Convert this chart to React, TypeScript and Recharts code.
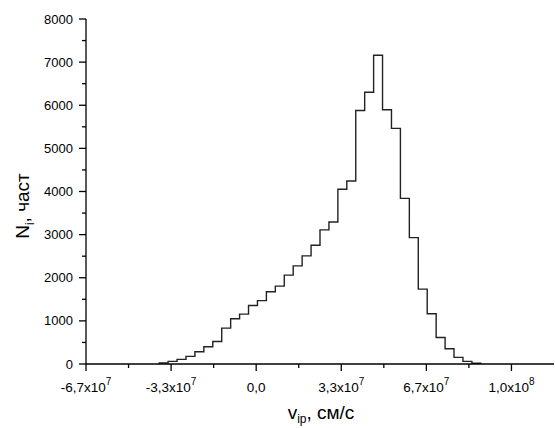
import { LineChart, Line, XAxis, YAxis } from 'recharts'

// bin left edges, cm/s
const binEdges = [
  -3.80e7, -3.45e7, -3.10e7, -2.75e7, -2.40e7, -2.05e7, -1.70e7, -1.35e7, -1.00e7,
  -0.65e7, -0.30e7, 0.05e7, 0.40e7, 0.75e7, 1.10e7, 1.45e7, 1.80e7, 2.15e7,
  2.50e7, 2.85e7, 3.20e7, 3.55e7, 3.90e7, 4.25e7, 4.60e7, 4.95e7, 5.30e7,
  5.65e7, 6.00e7, 6.35e7, 6.70e7, 7.05e7, 7.40e7, 7.75e7, 8.10e7, 8.45e7,
]
const lastEdge = 8.80e7

// particle counts per bin
const counts = [
  23, 60, 107, 176, 285, 400, 523, 833, 1049,
  1157, 1357, 1470, 1674, 1806, 2060, 2275, 2507, 2755,
  3109, 3294, 4051, 4243, 5880, 6303, 7160, 5894, 5463,
  3840, 2931, 1736, 1164, 616, 354, 153, 60, 18,
]

const xMajorTicks = [-6.667e7, -3.333e7, 0, 3.333e7, 6.667e7, 1.0e8]
const xMantissas = ['-6,7', '-3,3', '0,0', '3,3', '6,7', '1,0']
const xExponents = ['7', '7', '', '7', '7', '8']
const xMinorTicks = [-5e7, -1.667e7, 1.667e7, 5e7, 8.333e7]

const yMajorTicks = [0, 1000, 2000, 3000, 4000, 5000, 6000, 7000, 8000]
const yMinorTicks = [500, 1500, 2500, 3500, 4500, 5500, 6500, 7500]

const font = '"Liberation Sans", Arial, sans-serif'

const data = [
  { x: binEdges[0], n: 0 },
  ...binEdges.map((e, i) => ({ x: e, n: counts[i] })),
  { x: lastEdge, n: 0 },
]

const XTick = (props: any) => {
  const { x, y, payload } = props
  const i = xMajorTicks.indexOf(payload.value)
  if (i < 0) {
    return <line x1={x} y1={y} x2={x} y2={y + 4} stroke="#000" strokeWidth={1.3} />
  }
  return (
    <g>
      <line x1={x} y1={y} x2={x} y2={y + 7} stroke="#000" strokeWidth={1.3} />
      <text x={x} y={y + 28} textAnchor="middle" fontSize={13.5} fontFamily={font} fill="#000">
        {xExponents[i] ? xMantissas[i] + 'x10' : xMantissas[i]}
        {xExponents[i] && (
          <tspan dy={-7} fontSize={10}>{xExponents[i]}</tspan>
        )}
      </text>
    </g>
  )
}

const YTick = (props: any) => {
  const { x, y, payload } = props
  if (!yMajorTicks.includes(payload.value)) {
    return <line x1={x - 4} y1={y} x2={x} y2={y} stroke="#000" strokeWidth={1.3} />
  }
  return (
    <g>
      <line x1={x - 7} y1={y} x2={x} y2={y} stroke="#000" strokeWidth={1.3} />
      <text x={x - 13} y={y + 4.5} textAnchor="end" fontSize={13} fontFamily={font} fill="#000">
        {payload.value}
      </text>
    </g>
  )
}

export default function App() {
  return (
    <div style={{ position: 'absolute', left: 0, top: 0, width: 555, height: 428, background: '#fff' }}>
      <LineChart width={555} height={428} data={data} margin={{ top: 19, right: 1, left: 0, bottom: 0 }}>
        <XAxis
          dataKey="x"
          type="number"
          domain={[-6.667e7, 1.1667e8]}
          ticks={[...xMajorTicks, ...xMinorTicks].sort((a, b) => a - b)}
          interval={0}
          height={64}
          tickSize={0}
          tickMargin={0}
          tickLine={false}
          tick={<XTick />}
          axisLine={{ stroke: '#000', strokeWidth: 1.3 }}
          allowDataOverflow
        />
        <YAxis
          type="number"
          domain={[0, 8000]}
          ticks={[...yMajorTicks, ...yMinorTicks].sort((a, b) => a - b)}
          interval={0}
          width={86}
          tickSize={0}
          tickMargin={0}
          tickLine={false}
          tick={<YTick />}
          axisLine={{ stroke: '#000', strokeWidth: 1.3 }}
          allowDataOverflow
        />
        <Line
          type="stepAfter"
          dataKey="n"
          stroke="#222"
          strokeWidth={1.4}
          dot={false}
          isAnimationActive={false}
        />
      </LineChart>
      <svg width={555} height={428} style={{ position: 'absolute', left: 0, top: 0, pointerEvents: 'none' }}>
        <text transform="translate(29,206) rotate(-90)" textAnchor="middle" fontSize={19} fontFamily={font} fill="#000">
          N<tspan dy={5} fontSize={12}>i</tspan>
          <tspan dy={-5}>, част</tspan>
        </text>
        <text x={321} y={419} textAnchor="middle" fontSize={19} fontFamily={font} fill="#000">
          v<tspan dy={4} fontSize={12}>ip</tspan>
          <tspan dy={-4}>, см/с</tspan>
        </text>
      </svg>
    </div>
  )
}
